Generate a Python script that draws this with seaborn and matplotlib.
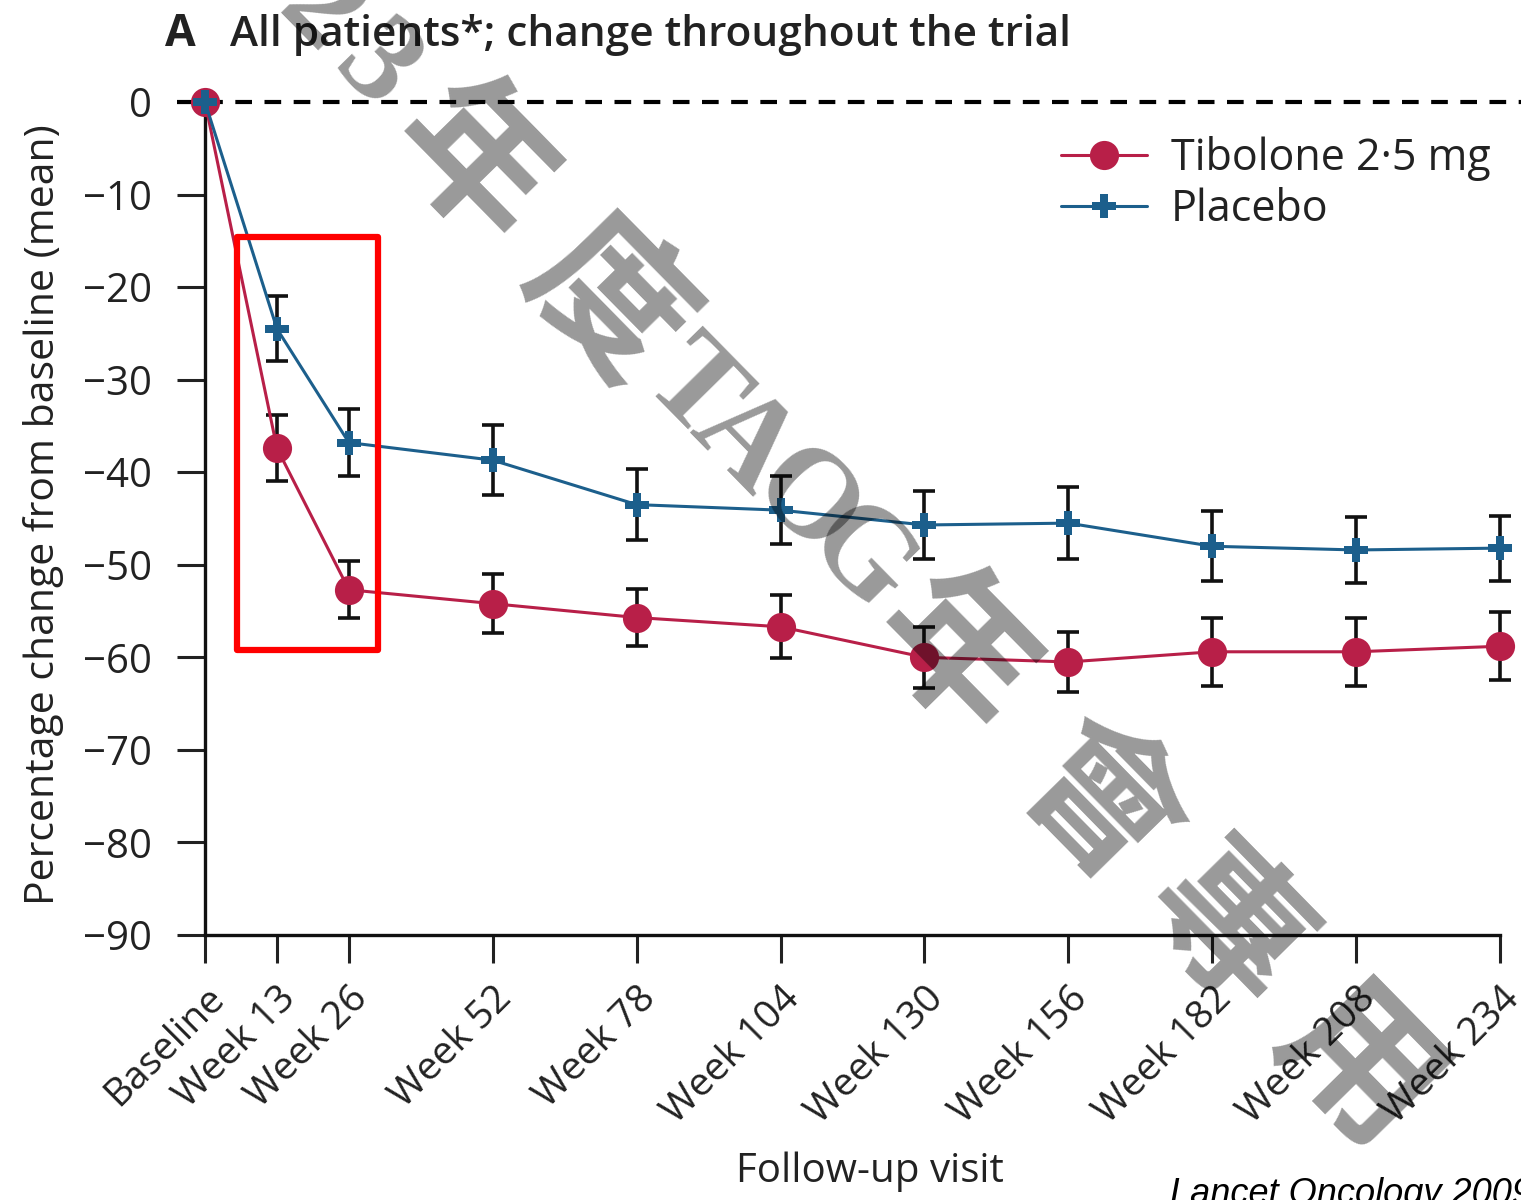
import numpy as np
import pandas as pd
import matplotlib
matplotlib.use("Agg")
import matplotlib.pyplot as plt
from matplotlib.patches import Rectangle
import seaborn as sns

# ---- data -------------------------------------------------------------
visit_weeks = [0, 13, 26, 52, 78, 104, 130, 156, 182, 208, 234]
visit_labels = ["Baseline", "Week 13", "Week 26", "Week 52", "Week 78",
                "Week 104", "Week 130", "Week 156", "Week 182", "Week 208",
                "Week 234"]

tibolone_mean = [0, -37.4, -52.7, -54.2, -55.7, -56.7, -60.0, -60.5, -59.4, -59.4, -58.8]
tibolone_se = [0, 3.6, 3.1, 3.2, 3.1, 3.4, 3.3, 3.2, 3.7, 3.7, 3.7]
placebo_mean = [0, -24.5, -36.8, -38.7, -43.5, -44.1, -45.7, -45.5, -48.0, -48.4, -48.2]
placebo_se = [0, 3.5, 3.6, 3.8, 3.8, 3.7, 3.7, 3.9, 3.8, 3.6, 3.5]

group_names = ["Tibolone 2\u00b75 mg", "Placebo"]
y_ticks = [0, -10, -20, -30, -40, -50, -60, -70, -80, -90]

# ---- styling ----------------------------------------------------------
sns.set_theme(style="ticks")
plt.rcParams["font.family"] = ["Open Sans", "DejaVu Sans"]

W, H = 1521, 1200
fig = plt.figure(figsize=(W / 100, H / 100), dpi=100)
ax = fig.add_axes([205 / W, 1 - 935 / H, (1500 - 205) / W, (935 - 102) / H])

red = "#b81f48"
blue = "#1c5f8c"
palette = {group_names[0]: red, group_names[1]: blue}
markers = {group_names[0]: "o", group_names[1]: "P"}

df = pd.DataFrame({
    "week": visit_weeks * 2,
    "change": tibolone_mean + placebo_mean,
    "group": [group_names[0]] * len(visit_weeks) + [group_names[1]] * len(visit_weeks),
})

# zero reference line
ax.plot([-5, 245], [0, 0], color="black", lw=3, dashes=(4, 3), clip_on=False, zorder=1)

# error bars (baseline has none)
for mean, se in [(tibolone_mean, tibolone_se), (placebo_mean, placebo_se)]:
    ax.errorbar(visit_weeks[1:], mean[1:], yerr=se[1:], fmt="none", ecolor="#111111",
                elinewidth=2.6, capsize=8, capthick=2.6, zorder=2, clip_on=False)

sns.lineplot(data=df, x="week", y="change", hue="group", style="group",
             hue_order=group_names, style_order=group_names,
             palette=palette, markers=markers, dashes=False,
             linewidth=2.2, markersize=21, markeredgewidth=0,
             ax=ax, legend=True, zorder=3, clip_on=False)
# placebo plus marker a bit smaller than the circles
for ln in ax.get_lines():
    if ln.get_marker() == "P":
        ln.set_markersize(17)

ax.set_xlim(0, 234)
ax.set_ylim(-90, 0)
ax.set_xticks(visit_weeks)
ax.set_xticklabels(visit_labels, rotation=45, ha="right", va="top",
                   rotation_mode="anchor", fontsize=28, color="#222222")
ax.set_yticks(y_ticks)
ax.set_yticklabels([f"{v}".replace("-", "\u2212") for v in y_ticks],
                   fontsize=29, color="#222222")
ax.tick_params(axis="both", direction="out", length=20, width=2.2, color="#222222")
ax.tick_params(axis="x", pad=12)
ax.tick_params(axis="y", pad=18)
sns.despine(ax=ax)
for side in ["left", "bottom"]:
    ax.spines[side].set_linewidth(2.4)
    ax.spines[side].set_color("#111111")

ax.set_xlabel("Follow-up visit", fontsize=29, color="#222222")
ax.set_ylabel("Percentage change from baseline (mean)", fontsize=29.5, color="#222222")
ax.xaxis.set_label_coords((870 - 205) / (1500 - 205), -(1152 - 935) / (935 - 102))
ax.yaxis.set_label_coords(-(205 - 64) / (1500 - 205), (935 - 515) / (935 - 102))

# legend
handles, labels = ax.get_legend_handles_labels()
for h in handles:
    h.set_markeredgewidth(0)
leg = ax.legend(handles, labels, loc="upper right", bbox_to_anchor=(1.006, 0.98),
                frameon=False, fontsize=31, handlelength=2.0, handletextpad=0.55,
                labelspacing=0.15, borderaxespad=0)
for t in leg.get_texts():
    t.set_color("#222222")

# highlighted weeks 13-26
ax.add_patch(Rectangle((5.8, -59.2), 25.5, 44.6, fill=False, edgecolor="#ff0000",
                       lw=4.5, joinstyle="round", clip_on=False, zorder=4))

# panel title
fig.text(165 / W, 1 - 35 / H, "A", fontsize=32, fontweight="bold",
         color="#222222", va="center", ha="left")
fig.text(230 / W, 1 - 35 / H, "All patients*; change throughout the trial",
         fontsize=30.5, fontweight="semibold", color="#222222",
         va="center", ha="left")

# source line
fig.text(1170 / W, -4 / H, "Lancet Oncology 2009", fontsize=26, style="italic",
         family=["Liberation Sans", "DejaVu Sans"], color="black",
         va="baseline", ha="left")

# diagonal watermark, laid out glyph by glyph
wm_chars = ["2", "0", "2", "3", "\u5e74", "\u5ea6", "T", "A", "O", "G",
            "\u5e74", "\u6703", "\u5c08", "\u7528"]
wm_steps = [0, 80, 80, 80, 136, 192, 124, 72, 87, 78, 135, 207, 179, 189]
angle = np.deg2rad(45.5)
start = np.array([375.0, 70.0]) - 240 * np.array([np.cos(angle), np.sin(angle)])
s = 0.0
for ch, step in zip(wm_chars, wm_steps):
    s += step
    px, py = start + s * np.array([np.cos(angle), np.sin(angle)])
    cjk = ord(ch) > 0x2000
    fig.text(px / W, 1 - py / H, ch, rotation=-45.5, rotation_mode="anchor",
             ha="center", va="center",
             fontsize=112 if cjk else 92, fontweight="bold",
             family=["Noto Sans CJK TC"] if cjk else ["Liberation Serif", "DejaVu Serif"],
             color="black", alpha=0.4, zorder=10)

fig.savefig("out.png", dpi=100, facecolor="white")
